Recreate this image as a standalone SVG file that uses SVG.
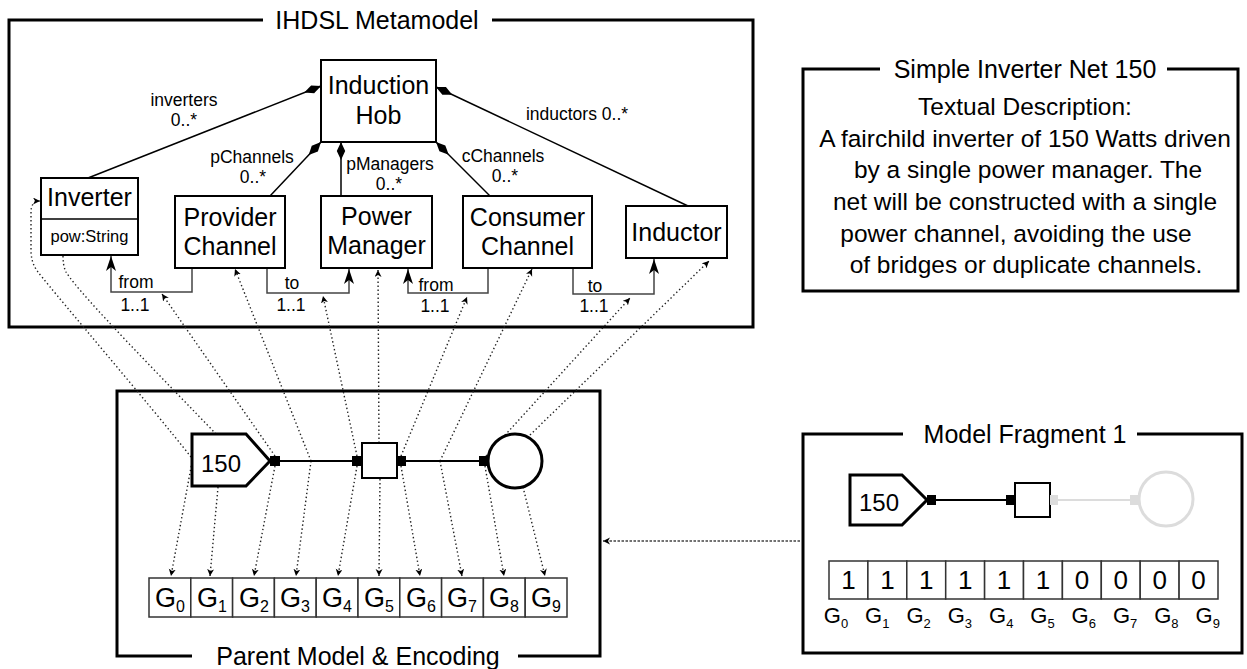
<svg xmlns="http://www.w3.org/2000/svg" width="1247" height="669" viewBox="0 0 1247 669">
  <style>
    text { font-family: "Liberation Sans", Arial, sans-serif; fill: #000; }
    .title { font-size: 25px; text-anchor: middle; }
    .cls { font-size: 25px; text-anchor: middle; }
    .attr { font-size: 16.5px; text-anchor: middle; }
    .lbl { font-size: 17.5px; text-anchor: middle; }
    .desc { font-size: 24.5px; text-anchor: middle; }
    .gene { font-size: 27px; text-anchor: middle; }
    .gsub { font-size: 16px; }
    .bit { font-size: 26px; text-anchor: middle; }
    .fgene { font-size: 22px; text-anchor: middle; }
    .fsub { font-size: 13px; }
    .frame { fill: none; stroke: #000; stroke-width: 3; }
    .box { fill: #fff; stroke: #000; stroke-width: 2; }
    .assoc { fill: none; stroke: #000; stroke-width: 1.5; marker-end: url(#diamond); }
    .ref { fill: none; stroke: #444; stroke-width: 1.5; marker-end: url(#refArrow); }
    .trace { fill: none; stroke: #222; stroke-width: 1.4; stroke-dasharray: 1.4 2.6; marker-end: url(#traceArrow); }
    .cell { fill: #fff; stroke: #333; stroke-width: 1.5; }
    .wire { stroke: #000; stroke-width: 2; }
    .faded { stroke: #dcdcdc; }
  </style>
  <defs>
    <marker id="diamond" markerUnits="userSpaceOnUse" markerWidth="20" markerHeight="10" refX="18" refY="5" orient="auto">
      <path d="M0,5 L9,0.8 L18,5 L9,9.2 z" fill="#000"/>
    </marker>
    <marker id="refArrow" markerUnits="userSpaceOnUse" markerWidth="16" markerHeight="12" refX="15" refY="5.5" orient="auto">
      <path d="M0,0.5 L15,5.5 L0,10.5 L4,5.5 z" fill="#000"/>
    </marker>
    <marker id="traceArrow" markerUnits="userSpaceOnUse" markerWidth="8" markerHeight="8" refX="7" refY="3.5" orient="auto">
      <path d="M0,0 L7,3.5 L0,7 L2,3.5 z" fill="#000"/>
    </marker>
  </defs>

  <rect width="1247" height="669" fill="#fff"/>

  <!-- frames -->
  <g id="frame-metamodel">
    <path class="frame" d="M263,20 L9,20 L9,327 L753,327 L753,20 L492,20"/>
    <text class="title" x="377" y="29">IHDSL Metamodel</text>
  </g>
  <g id="frame-description">
    <path class="frame" d="M880,69 L803,69 L803,291 L1238,291 L1238,69 L1167,69"/>
    <text class="title" x="1025" y="78">Simple Inverter Net 150</text>
    <text class="desc" x="1025" y="115">Textual Description:</text>
    <text class="desc" x="1025" y="147">A fairchild inverter of 150 Watts driven</text>
    <text class="desc" x="1028" y="178">by a single power manager. The</text>
    <text class="desc" x="1025" y="210">net will be constructed with a single</text>
    <text class="desc" x="1016" y="242">power channel, avoiding the use</text>
    <text class="desc" x="1026" y="273">of bridges or duplicate channels.</text>
  </g>
  <g id="frame-parent">
    <path class="frame" d="M192,656 L117,656 L117,391 L600,391 L600,656 L518,656"/>
    <text class="title" x="358" y="665" font-size="26">Parent Model &amp; Encoding</text>
  </g>
  <g id="frame-fragment">
    <path class="frame" d="M903,434 L803,434 L803,653 L1242,653 L1242,434 L1137,434"/>
    <text class="title" x="1025" y="443">Model Fragment 1</text>
  </g>

  <!-- connectors -->
  <g id="connectors">
    <!-- containment associations of the hob -->
    <path class="assoc" d="M88,178 L321,86"/>
    <path class="assoc" d="M270,196 L321,142"/>
    <path class="assoc" d="M341,196 L341,142"/>
    <path class="assoc" d="M490,196 L436,142"/>
    <path class="assoc" d="M688,206 L436,87"/>
    <!-- references -->
    <path class="ref" d="M192,268 L192,292 L111,292 L111,256"/>
    <path class="ref" d="M267,268 L267,293 L349,293 L349,269"/>
    <path class="ref" d="M488,268 L488,293 L408,293 L408,269"/>
    <path class="ref" d="M573,268 L573,294 L654,294 L654,259"/>
    <!-- model elements to metamodel -->
    <path class="trace" d="M191,457 C150,405 60,300 38,272 Q31,263 31,250 L31,212 Q31,201 40,201"/>
    <path class="trace" d="M216,434 C170,386 80,295 66,272 Q63,266 63,256 L63,248"/>
    <path class="trace" d="M275,456 L162,294"/>
    <path class="trace" d="M311,461 L235,269"/>
    <path class="trace" d="M357,456 L323,296"/>
    <path class="trace" d="M379,443 L378,270"/>
    <path class="trace" d="M401,456 L467,297"/>
    <path class="trace" d="M440,461 L532,269"/>
    <path class="trace" d="M486,456 L630,298"/>
    <path class="trace" d="M530,435 L709,261"/>
    <!-- model elements to genes -->
    <path class="trace" d="M192,462 L171,576"/>
    <path class="trace" d="M218,487 L210,576"/>
    <path class="trace" d="M275,466 L254,576"/>
    <path class="trace" d="M311,461 L296,576"/>
    <path class="trace" d="M357,466 L338,576"/>
    <path class="trace" d="M380,479 L379,576"/>
    <path class="trace" d="M401,466 L420,576"/>
    <path class="trace" d="M440,461 L462,576"/>
    <path class="trace" d="M485,466 L504,576"/>
    <path class="trace" d="M523,487 L545,576"/>
    <!-- fragment to parent -->
    <path d="M800,541 L603,541" fill="none" stroke="#444" stroke-width="1.3" stroke-dasharray="2.5 1.5" marker-end="url(#traceArrow)"/>
  </g>

  <!-- metamodel classes -->
  <g id="induction-hob">
    <rect class="box" x="321" y="60" width="115" height="82"/>
    <text class="cls" x="378.5" y="94">Induction</text>
    <text class="cls" x="378.5" y="124">Hob</text>
  </g>
  <g id="inverter">
    <rect class="box" x="41" y="178" width="97" height="77"/>
    <line x1="41" y1="219" x2="138" y2="219" stroke="#000" stroke-width="1.5"/>
    <text class="cls" x="89.5" y="206">Inverter</text>
    <text class="attr" x="89.5" y="242">pow:String</text>
  </g>
  <g id="provider-channel">
    <rect class="box" x="175" y="196" width="110" height="72"/>
    <text class="cls" x="230" y="226">Provider</text>
    <text class="cls" x="230" y="255">Channel</text>
  </g>
  <g id="power-manager">
    <rect class="box" x="321" y="196" width="111" height="72"/>
    <text class="cls" x="376.5" y="225">Power</text>
    <text class="cls" x="376.5" y="254">Manager</text>
  </g>
  <g id="consumer-channel">
    <rect class="box" x="463" y="196" width="129" height="72"/>
    <text class="cls" x="527.5" y="226">Consumer</text>
    <text class="cls" x="527.5" y="255">Channel</text>
  </g>
  <g id="inductor">
    <rect class="box" x="626" y="206" width="101" height="52"/>
    <text class="cls" x="676.5" y="241">Inductor</text>
  </g>

  <!-- association and reference labels -->
  <g id="labels">
    <text class="lbl" x="184" y="106">inverters</text>
    <text class="lbl" x="184" y="126">0..*</text>
    <text class="lbl" x="252" y="163">pChannels</text>
    <text class="lbl" x="253" y="183">0..*</text>
    <text class="lbl" x="390" y="170">pManagers</text>
    <text class="lbl" x="389" y="190">0..*</text>
    <text class="lbl" x="503" y="162">cChannels</text>
    <text class="lbl" x="505" y="182">0..*</text>
    <text class="lbl" x="577" y="120">inductors 0..*</text>
    <text class="lbl" x="136" y="288">from</text>
    <text class="lbl" x="135" y="311">1..1</text>
    <text class="lbl" x="292" y="289">to</text>
    <text class="lbl" x="291" y="311">1..1</text>
    <text class="lbl" x="436" y="291">from</text>
    <text class="lbl" x="435" y="312">1..1</text>
    <text class="lbl" x="595" y="292">to</text>
    <text class="lbl" x="594" y="312">1..1</text>
  </g>

  <!-- parent model -->
  <g id="parent-inverter">
    <path d="M192,434 L246,434 L270,461 L246,486 L192,486 z" fill="#fff" stroke="#000" stroke-width="3"/>
    <text x="221" y="472" font-size="24" text-anchor="middle">150</text>
    <rect x="270" y="456" width="10" height="10" fill="#000"/>
  </g>
  <g id="parent-channel-1">
    <line class="wire" x1="280" y1="461" x2="352" y2="461"/>
  </g>
  <g id="parent-power-manager">
    <rect x="352" y="456" width="10" height="10" fill="#000"/>
    <rect class="box" x="362" y="443" width="35" height="35"/>
    <rect x="397" y="456" width="9" height="10" fill="#000"/>
  </g>
  <g id="parent-channel-2">
    <line class="wire" x1="406" y1="461" x2="479" y2="461"/>
  </g>
  <g id="parent-inductor">
    <rect x="479" y="456" width="10" height="10" fill="#000"/>
    <circle cx="515" cy="461" r="27" fill="#fff" stroke="#000" stroke-width="3"/>
  </g>
  <g id="parent-genes">
    <rect class="cell" x="149" y="578" width="41.8" height="39"/>
    <rect class="cell" x="190.8" y="578" width="41.8" height="39"/>
    <rect class="cell" x="232.6" y="578" width="41.8" height="39"/>
    <rect class="cell" x="274.4" y="578" width="41.8" height="39"/>
    <rect class="cell" x="316.2" y="578" width="41.8" height="39"/>
    <rect class="cell" x="358" y="578" width="41.8" height="39"/>
    <rect class="cell" x="399.8" y="578" width="41.8" height="39"/>
    <rect class="cell" x="441.6" y="578" width="41.8" height="39"/>
    <rect class="cell" x="483.4" y="578" width="41.8" height="39"/>
    <rect class="cell" x="525.2" y="578" width="41.8" height="39"/>
    <text class="gene" x="170" y="607">G<tspan class="gsub" dy="5">0</tspan></text>
    <text class="gene" x="212" y="607">G<tspan class="gsub" dy="5">1</tspan></text>
    <text class="gene" x="254" y="607">G<tspan class="gsub" dy="5">2</tspan></text>
    <text class="gene" x="295" y="607">G<tspan class="gsub" dy="5">3</tspan></text>
    <text class="gene" x="337" y="607">G<tspan class="gsub" dy="5">4</tspan></text>
    <text class="gene" x="379" y="607">G<tspan class="gsub" dy="5">5</tspan></text>
    <text class="gene" x="421" y="607">G<tspan class="gsub" dy="5">6</tspan></text>
    <text class="gene" x="462" y="607">G<tspan class="gsub" dy="5">7</tspan></text>
    <text class="gene" x="504" y="607">G<tspan class="gsub" dy="5">8</tspan></text>
    <text class="gene" x="546" y="607">G<tspan class="gsub" dy="5">9</tspan></text>
  </g>

  <!-- model fragment -->
  <g id="fragment-inverter">
    <path d="M850,475 L902,475 L927,500 L902,525 L850,525 z" fill="#fff" stroke="#000" stroke-width="3"/>
    <text x="879" y="511" font-size="24" text-anchor="middle">150</text>
    <rect x="927" y="495" width="9" height="10" fill="#000"/>
  </g>
  <g id="fragment-channel-1">
    <line class="wire" x1="936" y1="500" x2="1006" y2="500"/>
  </g>
  <g id="fragment-power-manager">
    <rect x="1006" y="495" width="9" height="10" fill="#000"/>
    <rect class="box" x="1015" y="483" width="35" height="34"/>
    <rect x="1050" y="495" width="8" height="10" fill="#dcdcdc"/>
  </g>
  <g id="fragment-channel-2">
    <line class="wire faded" x1="1058" y1="500" x2="1130" y2="500"/>
  </g>
  <g id="fragment-inductor">
    <rect x="1130" y="495" width="9" height="10" fill="#dcdcdc"/>
    <circle cx="1166" cy="499" r="27" fill="#fff" stroke="#dcdcdc" stroke-width="3"/>
  </g>
  <g id="fragment-genes">
    <rect class="cell" x="829" y="561" width="38.9" height="38"/>
    <rect class="cell" x="867.9" y="561" width="38.9" height="38"/>
    <rect class="cell" x="906.8" y="561" width="38.9" height="38"/>
    <rect class="cell" x="945.7" y="561" width="38.9" height="38"/>
    <rect class="cell" x="984.6" y="561" width="38.9" height="38"/>
    <rect class="cell" x="1023.5" y="561" width="38.9" height="38"/>
    <rect class="cell" x="1062.4" y="561" width="38.9" height="38"/>
    <rect class="cell" x="1101.3" y="561" width="38.9" height="38"/>
    <rect class="cell" x="1140.2" y="561" width="38.9" height="38"/>
    <rect class="cell" x="1179.1" y="561" width="38.9" height="38"/>
    <text class="bit" x="848.5" y="589">1</text>
    <text class="bit" x="887.4" y="589">1</text>
    <text class="bit" x="926.3" y="589">1</text>
    <text class="bit" x="965.2" y="589">1</text>
    <text class="bit" x="1004.1" y="589">1</text>
    <text class="bit" x="1043" y="589">1</text>
    <text class="bit" x="1081.9" y="589">0</text>
    <text class="bit" x="1120.8" y="589">0</text>
    <text class="bit" x="1159.7" y="589">0</text>
    <text class="bit" x="1198.6" y="589">0</text>
    <text class="fgene" x="836" y="623">G<tspan class="fsub" dy="5">0</tspan></text>
    <text class="fgene" x="877.3" y="623">G<tspan class="fsub" dy="5">1</tspan></text>
    <text class="fgene" x="918.6" y="623">G<tspan class="fsub" dy="5">2</tspan></text>
    <text class="fgene" x="959.9" y="623">G<tspan class="fsub" dy="5">3</tspan></text>
    <text class="fgene" x="1001.2" y="623">G<tspan class="fsub" dy="5">4</tspan></text>
    <text class="fgene" x="1042.5" y="623">G<tspan class="fsub" dy="5">5</tspan></text>
    <text class="fgene" x="1083.8" y="623">G<tspan class="fsub" dy="5">6</tspan></text>
    <text class="fgene" x="1125.1" y="623">G<tspan class="fsub" dy="5">7</tspan></text>
    <text class="fgene" x="1166.4" y="623">G<tspan class="fsub" dy="5">8</tspan></text>
    <text class="fgene" x="1207.7" y="623">G<tspan class="fsub" dy="5">9</tspan></text>
  </g>
</svg>
